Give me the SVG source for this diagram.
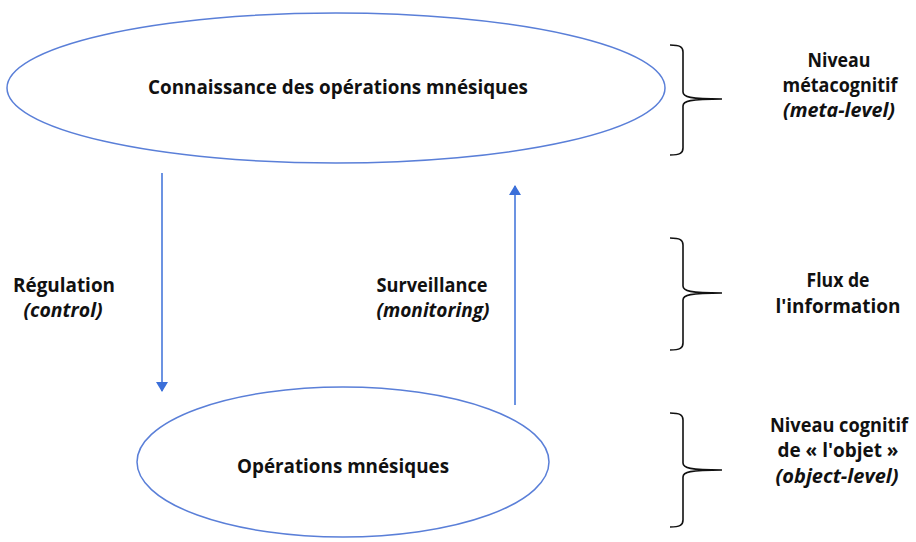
<svg xmlns="http://www.w3.org/2000/svg" width="916" height="542" viewBox="0 0 916 542">
<style>
.ell{fill:none;stroke:#5a7fd8;stroke-width:1.5}
.t{font-family:"Open Sans","Liberation Sans",sans-serif;font-weight:bold;font-size:19px;fill:#111;text-anchor:middle}
.i{font-style:italic}
.br{fill:none;stroke:#111;stroke-width:1.6}
.ar{stroke:#3b6fd9;stroke-width:1.5;fill:none}
</style>
<defs>
<marker id="ah" viewBox="0 0 10 12" refX="9" refY="6" markerWidth="10" markerHeight="12" markerUnits="userSpaceOnUse" orient="auto">
<path d="M0,0 L10,6 L0,12 z" fill="#3b6fd9"/>
</marker>
</defs>
<rect width="916" height="542" fill="#fff"/>
<g id="meta">
<ellipse class="ell" cx="336" cy="88" rx="329" ry="75"/>
<text class="t" x="338" y="94" textLength="380" lengthAdjust="spacingAndGlyphs">Connaissance des opérations mnésiques</text>
</g>
<g id="object">
<ellipse class="ell" cx="343" cy="462" rx="206" ry="75"/>
<text class="t" x="343" y="473" textLength="212" lengthAdjust="spacingAndGlyphs">Opérations mnésiques</text>
</g>
<g id="connectors">
<line class="ar" x1="162" y1="173" x2="162" y2="391" marker-end="url(#ah)"/>
<line class="ar" x1="515" y1="405" x2="515" y2="186" marker-end="url(#ah)"/>
</g>
<g id="regulation">
<text class="t" x="64" y="292" textLength="102" lengthAdjust="spacingAndGlyphs">Régulation</text>
<text class="t i" x="63" y="317" textLength="79" lengthAdjust="spacingAndGlyphs">(control)</text>
</g>
<g id="surveillance">
<text class="t" x="432" y="292" textLength="111" lengthAdjust="spacingAndGlyphs">Surveillance</text>
<text class="t i" x="433" y="317" textLength="113" lengthAdjust="spacingAndGlyphs">(monitoring)</text>
</g>
<g id="brace-meta">
<path class="br" d="M670,45 C680,45 683,47 683,52 L683,92 C683,97 690,99 722,99 C690,99 683,101 683,106 L683,148 C683,153 680,155 670,155"/>
<text class="t" x="839" y="67" textLength="63" lengthAdjust="spacingAndGlyphs">Niveau</text>
<text class="t" x="840" y="92" textLength="115" lengthAdjust="spacingAndGlyphs">métacognitif</text>
<text class="t i" x="839" y="117" textLength="112" lengthAdjust="spacingAndGlyphs">(meta-level)</text>
</g>
<g id="brace-flux">
<path class="br" d="M670,238 C680,238 683,240 683,245 L683,286 C683,291 690,293 722,293 C690,293 683,295 683,300 L683,343 C683,348 680,350 670,350"/>
<text class="t" x="838" y="287" textLength="63" lengthAdjust="spacingAndGlyphs">Flux de</text>
<text class="t" x="838" y="313" textLength="125" lengthAdjust="spacingAndGlyphs">l'information</text>
</g>
<g id="brace-object">
<path class="br" d="M670,413 C680,413 683,415 683,420 L683,463 C683,468 690,470 722,470 C690,470 683,472 683,477 L683,520 C683,525 680,527 670,527"/>
<text class="t" x="839" y="432" textLength="138" lengthAdjust="spacingAndGlyphs">Niveau cognitif</text>
<text class="t" x="838" y="457" textLength="121" lengthAdjust="spacingAndGlyphs">de « l'objet »</text>
<text class="t i" x="837" y="483" textLength="123" lengthAdjust="spacingAndGlyphs">(object-level)</text>
</g>
</svg>
